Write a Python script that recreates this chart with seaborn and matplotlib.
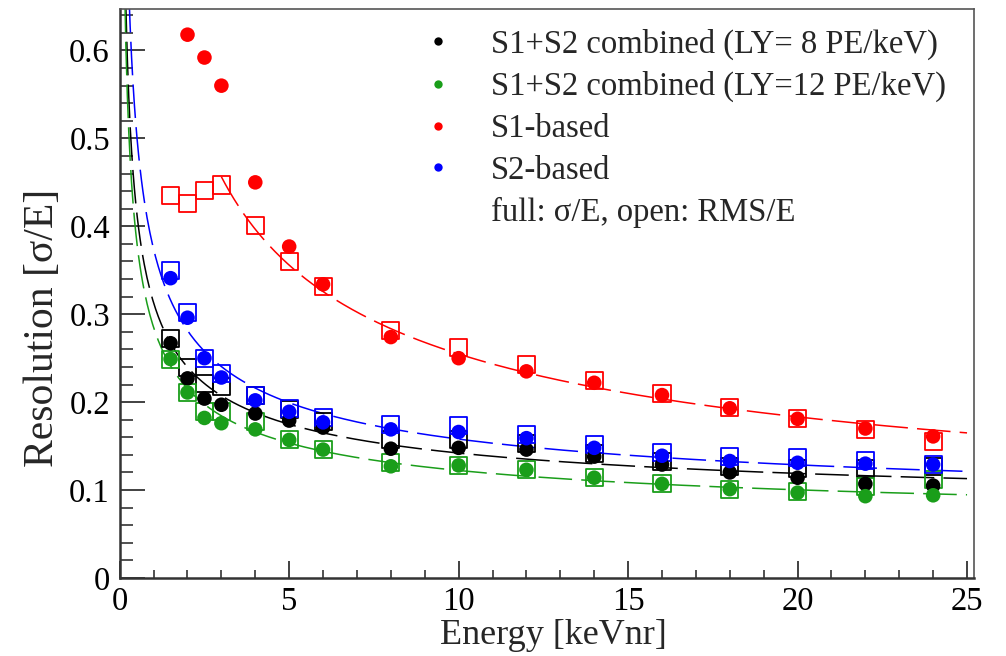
import numpy as np
import pandas as pd
import matplotlib
matplotlib.use("Agg")
import matplotlib.pyplot as plt
from matplotlib.lines import Line2D
import seaborn as sns

# Energies (keVnr)
energy = [1.5, 2, 2.5, 3, 4, 5, 6, 8, 10, 12, 14, 16, 18, 20, 22, 24]

# S1+S2 combined, LY = 8 PE/keV
black_sigma = [0.267, 0.227, 0.204, 0.197, 0.187, 0.179, 0.171, 0.147, 0.148, 0.146,
               0.138, 0.129, 0.120, 0.114, 0.107, 0.105]
black_rms = [0.272, 0.239, 0.221, 0.218, 0.207, 0.192, 0.178, 0.157, 0.157, 0.153,
             0.141, 0.133, 0.127, 0.125, 0.124, 0.127]

# S1+S2 combined, LY = 12 PE/keV
green_sigma = [0.249, 0.211, 0.182, 0.176, 0.169, 0.157, 0.146, 0.127, 0.128, 0.123,
               0.114, 0.107, 0.101, 0.097, 0.093, 0.094]
green_rms = [0.249, 0.211, 0.189, 0.189, 0.178, 0.158, 0.146, 0.131, 0.128, 0.123,
             0.114, 0.107, 0.101, 0.098, 0.104, 0.112]

# S1-based (first point has no sigma value)
red_energy_sigma = [2, 2.5, 3, 4, 5, 6, 8, 10, 12, 14, 16, 18, 20, 22, 24]
red_sigma = [0.618, 0.592, 0.560, 0.450, 0.377, 0.334, 0.274, 0.250, 0.235,
             0.222, 0.208, 0.193, 0.181, 0.170, 0.161]
red_rms = [0.435, 0.426, 0.441, 0.447, 0.401, 0.360, 0.331, 0.282, 0.262, 0.243,
           0.225, 0.210, 0.194, 0.181, 0.169, 0.155]

# S2-based
blue_sigma = [0.341, 0.296, 0.250, 0.228, 0.202, 0.189, 0.177, 0.169, 0.166, 0.159,
              0.148, 0.139, 0.133, 0.131, 0.130, 0.129]
blue_rms = [0.350, 0.302, 0.250, 0.232, 0.208, 0.193, 0.183, 0.174, 0.173, 0.163,
            0.152, 0.143, 0.138, 0.137, 0.134, 0.129]

# fit curves a/sqrt(E) + b, start energy
fit_names = ["black", "green", "red", "blue"]
fit_a = [0.250, 0.238, 0.772, 0.316]
fit_b = [0.063, 0.047, 0.0106, 0.058]
fit_start = [0.1, 0.1, 3.0, 0.1]

colors = {"black": "black", "green": "#1a9e1a", "red": "#ff0000", "blue": "#0000ff"}

sns.set_style("white")
plt.rcParams['font.family'] = ['Liberation Serif', 'DejaVu Serif']

fig = plt.figure(figsize=(10.06, 6.56), dpi=100)
ax = fig.add_axes([0.119, 0.119, 0.849, 0.867])

# fit lines
for name, a, b, e0 in zip(fit_names, fit_a, fit_b, fit_start):
    e = np.linspace(e0, 25, 600)
    ax.plot(e, a / np.sqrt(e) + b, color=colors[name], lw=1.1, dashes=(22, 6), zorder=1)

# points
rows = []
for name, xs, ys, kind in [
    ("black", energy, black_rms, "rms"), ("green", energy, green_rms, "rms"),
    ("red", energy, red_rms, "rms"), ("blue", energy, blue_rms, "rms"),
    ("black", energy, black_sigma, "sigma"), ("green", energy, green_sigma, "sigma"),
    ("red", red_energy_sigma, red_sigma, "sigma"), ("blue", energy, blue_sigma, "sigma"),
]:
    for x, y in zip(xs, ys):
        rows.append({"E": x, "res": y, "series": name, "kind": kind})
df = pd.DataFrame(rows)

for name in fit_names:
    d = df[(df.series == name) & (df.kind == "rms")]
    sns.scatterplot(data=d, x="E", y="res", ax=ax, marker="s", s=150,
                    facecolor="none", edgecolor=colors[name], linewidth=1.3, zorder=2)
for name in fit_names:
    d = df[(df.series == name) & (df.kind == "sigma")]
    sns.scatterplot(data=d, x="E", y="res", ax=ax, marker="o", s=110,
                    color=colors[name], edgecolor="none", zorder=3)

ax.set_xlim(0, 25.2)
ax.set_ylim(0, 0.647)
ax.set_xticks([0, 5, 10, 15, 20, 25])
ax.set_xticks(np.arange(0, 26, 1), minor=True)
ax.set_yticks([0, 0.1, 0.2, 0.3, 0.4, 0.5, 0.6])
ax.set_yticklabels(["0", "0.1", "0.2", "0.3", "0.4", "0.5", "0.6"])
ax.set_yticks(np.arange(0, 0.65, 0.02), minor=True)
ax.tick_params(axis="both", which="both", direction="in", labelsize=23.5, colors="#333333",
               labelcolor="black", top=False, right=False, left=True, bottom=True)
ax.tick_params(axis="y", which="major", length=18, width=1.3, pad=7)
ax.tick_params(axis="y", which="minor", length=9, width=1.2)
ax.tick_params(axis="x", which="major", length=12, width=1.3, pad=6)
ax.tick_params(axis="x", which="minor", length=6, width=1.2)

for side in ["left", "bottom"]:
    ax.spines[side].set_linewidth(1.8)
    ax.spines[side].set_color("#333333")
for side in ["top", "right"]:
    ax.spines[side].set_linewidth(1.2)
    ax.spines[side].set_color("#555555")

ax.set_xlabel("Energy [keVnr]", fontsize=26)
ax.set_ylabel("Resolution [σ/E]", fontsize=30)
ax.xaxis.set_label_coords(0.508, -0.072)
ax.yaxis.set_label_coords(-0.067, 0.44)

handles = [Line2D([], [], ls="none", marker="o", ms=6, color=colors[n], mec="none")
           for n in fit_names]
handles.append(Line2D([], [], ls="none", marker="none"))
labels = ["S1+S2 combined (LY= 8 PE/keV)", "S1+S2 combined (LY=12 PE/keV)",
          "S1-based", "S2-based", "full: σ/E, open: RMS/E"]
ax.legend(handles, labels, loc="upper right", bbox_to_anchor=(0.99, 1.0), frameon=False,
          fontsize=23.5, handletextpad=1.0, labelspacing=0.34, handlelength=1.2,
          borderaxespad=0.2)

fig.savefig("out.png", dpi=100)
